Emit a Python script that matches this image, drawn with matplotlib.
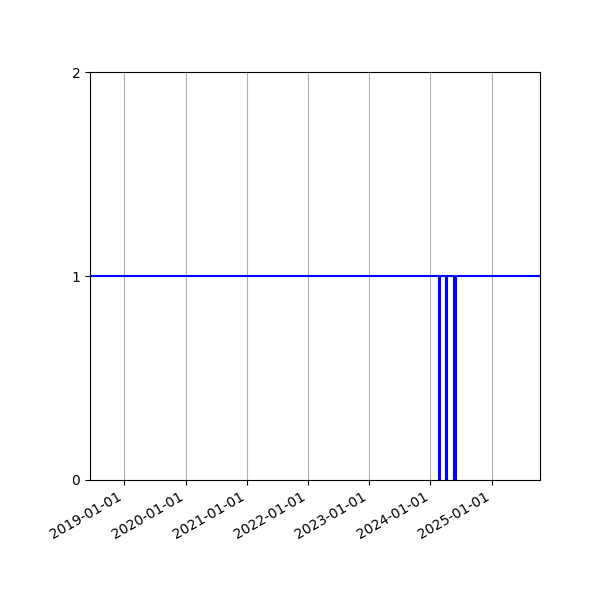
import numpy as np
import pandas as pd
import matplotlib
matplotlib.use('Agg')
import matplotlib.pyplot as plt
import matplotlib.dates as mdates

# status series as breakpoints: value 1 everywhere except short outages
start_date = "2018-06-10"
end_date = "2025-10-16"
outage_starts = ["2024-02-19", "2024-04-01", "2024-05-23"]
outage_ends = ["2024-02-26", "2024-04-08", "2024-05-30"]
up_value = 1
down_value = 0

dates = [pd.Timestamp(start_date)]
values = [up_value]
for s, e in zip(outage_starts, outage_ends):
    dates += [pd.Timestamp(s), pd.Timestamp(s), pd.Timestamp(e), pd.Timestamp(e)]
    values += [up_value, down_value, down_value, up_value]
dates.append(pd.Timestamp(end_date))
values.append(up_value)

fig, ax = plt.subplots(figsize=(6, 6), dpi=100)
ax.plot(dates, values, color="blue", linewidth=1.5)

ax.set_xlim(pd.Timestamp(start_date), pd.Timestamp(end_date))
ax.set_ylim(0, 2)
ax.set_yticks([0, 1, 2])
ax.xaxis.set_major_locator(mdates.YearLocator())
ax.xaxis.set_major_formatter(mdates.DateFormatter("%Y-%m-%d"))
ax.grid(True, axis="x")

fig.autofmt_xdate()
fig.subplots_adjust(left=0.15, right=0.9, top=0.88, bottom=0.2)
fig.savefig("out.png")
